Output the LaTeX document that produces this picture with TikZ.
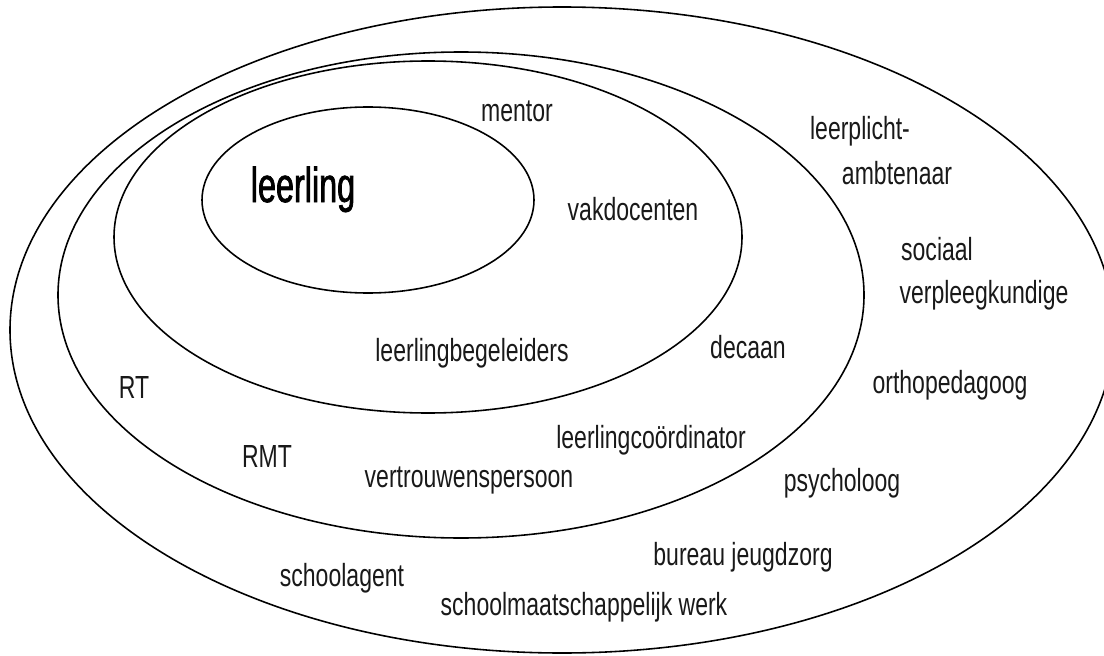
\documentclass[tikz,border=0pt]{standalone}
\usepackage{fontspec}
\setmainfont{Liberation Sans}[FakeStretch=0.72]
\newfontfamily\bigfont{Liberation Sans}[FakeStretch=0.66, FakeBold=1.5]
\begin{document}
\begin{tikzpicture}[x=0.02cm, y=-0.02cm,
  orbit/.style={line width=0.9pt, draw=black},
  lbl/.style={anchor=base, inner sep=0pt, text=black!90, font=\fontsize{18.2pt}{22pt}\selectfont},
  biglbl/.style={anchor=base, inner sep=0pt, text=black, font=\bigfont\fontsize{27.9pt}{32pt}\selectfont}]
\clip (0,0) rectangle (1104,655);
\fill[white] (0,0) rectangle (1104,655);
% ellipses
\draw[orbit] (368,200) ellipse [x radius=166, y radius=93];
\draw[orbit] (428,237) ellipse [x radius=314, y radius=176];
\draw[orbit] (461,295) ellipse [x radius=403, y radius=243];
\draw[orbit] (562,330) ellipse [x radius=552, y radius=323];
% labels
\node[biglbl] (leerling) at (303,202) {leerling};
\node[lbl] (mentor) at (517,122) {mentor};
\node[lbl] (vakdocenten) at (633,220) {vakdocenten};
\node[lbl] (leerlingbegeleiders) at (472,361) {leerlingbegeleiders};
\node[lbl] (decaan) at (748,358) {decaan};
\node[lbl] (leerplicht) at (860,140) {leerplicht-};
\node[lbl] (ambtenaar) at (897,185) {ambtenaar};
\node[lbl] (sociaal) at (937,260) {sociaal};
\node[lbl] (verpleeg) at (984,303) {verpleegkundige};
\node[lbl] (ortho) at (950,393) {orthopedagoog};
\node[lbl] (RT) at (134,398) {RT};
\node[lbl] (RMT) at (267,467) {RMT};
\node[lbl] (coord) at (651,448) {leerlingco\"ordinator};
\node[lbl] (vertrouwen) at (469,487) {vertrouwenspersoon};
\node[lbl] (psycholoog) at (842,491) {psycholoog};
\node[lbl] (bureau) at (743,565) {bureau jeugdzorg};
\node[lbl] (schoolagent) at (342,586) {schoolagent};
\node[lbl] (smw) at (584,615) {schoolmaatschappelijk werk};
\end{tikzpicture}
\end{document}
